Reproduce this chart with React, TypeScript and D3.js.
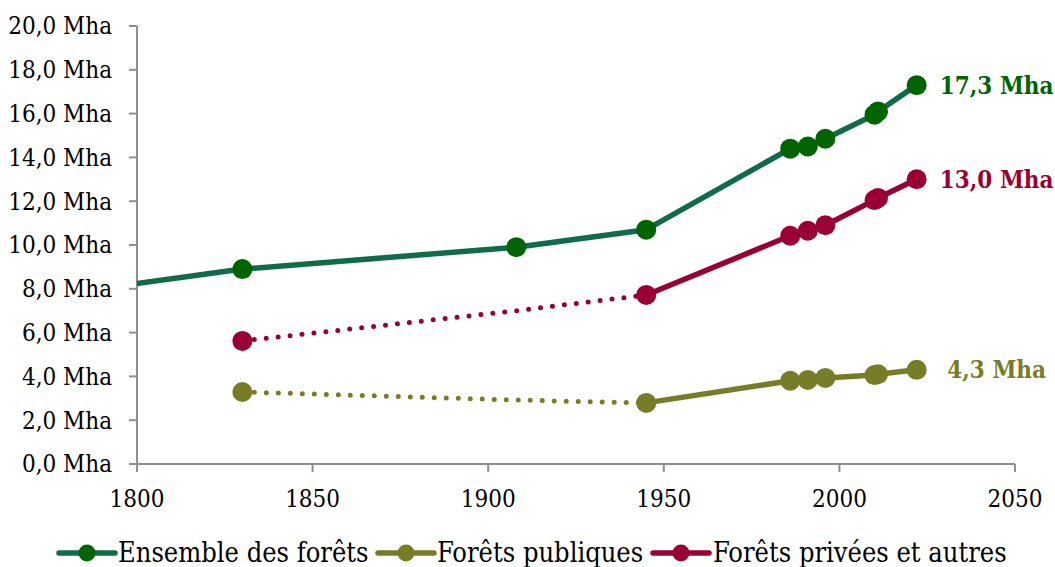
import * as d3 from 'd3';

const years = [1789, 1830, 1908, 1945, 1986, 1991, 1996, 2010, 2011, 2022];
const totalValues = [8.0, 8.9, 9.9, 10.7, 14.4, 14.5, 14.85, 15.95, 16.1, 17.3];
const publicValues = [null, 3.29, 2.92, 2.79, 3.8, 3.84, 3.93, 4.06, 4.1, 4.3];
const privateValues = [null, 5.62, 7.0, 7.72, 10.42, 10.65, 10.9, 12.05, 12.15, 13.0];
// years up to this one are estimates (dotted for public / private)
const estimateUntil = 1945;
const yTicks = [0, 2, 4, 6, 8, 10, 12, 14, 16, 18, 20];
const xTicks = [1800, 1850, 1900, 1950, 2000, 2050];
const seriesNames = ['Ensemble des forêts', 'Forêts publiques', 'Forêts privées et autres'];
const endLabels = ['17,3 Mha', '4,3 Mha', '13,0 Mha'];

const FONT = '"DejaVu Serif Condensed", "DejaVu Serif", serif';
const W = 1055;
const H = 567;
const left = 137;
const right = 1015;
const top = 26;
const bottom = 464;

type Pt = { year: number; value: number };

export default function App() {
  const x = d3.scaleLinear().domain([1800, 2050]).range([left, right]);
  const y = d3.scaleLinear().domain([0, 20]).range([bottom, top]);
  const fmt = (v: number) => v.toFixed(1).replace('.', ',') + ' Mha';

  const line = d3
    .line<Pt>()
    .x((d) => x(d.year))
    .y((d) => y(d.value));

  const series = [
    { name: seriesNames[0], values: totalValues, line: '#0F6B48', dot: '#006400', label: endLabels[0], dotted: false, hideMarker: [1908] },
    { name: seriesNames[1], values: publicValues, line: '#777D26', dot: '#777D26', label: endLabels[1], dotted: true, hideMarker: [1908] },
    { name: seriesNames[2], values: privateValues, line: '#990033', dot: '#990033', label: endLabels[2], dotted: true, hideMarker: [1908] },
  ].map((s, i) => {
    const pts: Pt[] = years
      .map((yr, j) => ({ year: yr, value: s.values[j] as number }))
      .filter((p) => p.value != null);
    return { ...s, pts, idx: i };
  });

  const legendItems = [
    { s: series[0], lx: 59, tx: 118 },
    { s: series[1], lx: 378, tx: 437 },
    { s: series[2], lx: 653, tx: 713 },
  ];

  return (
    <div style={{ position: 'fixed', left: 0, top: 0 }}>
      <svg width={W} height={H} style={{ display: 'block', background: '#fff' }} fontFamily={FONT}>
        <defs>
          <clipPath id="plot">
            <rect x={left} y={0} width={right - left + 40} height={bottom} />
          </clipPath>
        </defs>

        {/* axes */}
        <line x1={left} x2={left} y1={top} y2={bottom} stroke="#8f8f8f" strokeWidth={2} />
        <line x1={left} x2={right} y1={bottom} y2={bottom} stroke="#8f8f8f" strokeWidth={2} />
        {yTicks.map((t) => (
          <g key={'y' + t}>
            <line x1={left - 8} x2={left} y1={y(t)} y2={y(t)} stroke="#8f8f8f" strokeWidth={2} />
            <text x={112} y={y(t)} dy="0.35em" textAnchor="end" fontSize={24} fill="#000">
              {fmt(t)}
            </text>
          </g>
        ))}
        {xTicks.map((t) => (
          <g key={'x' + t}>
            <line x1={x(t)} x2={x(t)} y1={bottom} y2={bottom + 8} stroke="#8f8f8f" strokeWidth={2} />
            <text x={x(t)} y={507} textAnchor="middle" fontSize={24} fill="#000">
              {t}
            </text>
          </g>
        ))}

        {/* lines */}
        <g clipPath="url(#plot)">
          {series.map((s) => {
            const est = s.dotted ? s.pts.filter((p) => p.year <= estimateUntil) : [];
            const solid = s.dotted ? s.pts.filter((p) => p.year >= estimateUntil) : s.pts;
            return (
              <g key={s.name}>
                {est.length > 1 && (
                  <path
                    d={line(est) || ''}
                    fill="none"
                    stroke={s.line}
                    strokeWidth={5}
                    strokeLinecap="round"
                    strokeDasharray="0 12"
                  />
                )}
                <path
                  d={line(solid) || ''}
                  fill="none"
                  stroke={s.line}
                  strokeWidth={5.5}
                  strokeLinejoin="round"
                />
                {s.pts
                  .filter((p) => p.year >= 1800 && !s.hideMarker.includes(p.year) || (s.idx === 0 && p.year === 1908))
                  .map((p) => (
                    <circle key={p.year} cx={x(p.year)} cy={y(p.value)} r={10} fill={s.dot} />
                  ))}
              </g>
            );
          })}
        </g>

        {/* end labels */}
        {series.map((s) => {
          const last = s.pts[s.pts.length - 1];
          return (
            <text
              key={'l' + s.name}
              x={x(last.year) + 80}
              y={y(last.value)}
              dy="0.35em"
              textAnchor="middle"
              fontSize={24}
              fontWeight="bold"
              fill={s.dot}
            >
              {s.label}
            </text>
          );
        })}

        {/* legend */}
        {legendItems.map(({ s, lx, tx }) => (
          <g key={'lg' + s.name}>
            <line x1={lx} x2={lx + 56} y1={553} y2={553} stroke={s.line} strokeWidth={5.5} strokeLinecap="round" />
            <circle cx={lx + 28} cy={553} r={8.5} fill={s.dot} />
            <text x={tx} y={553} dy="0.35em" fontSize={27} fill="#000">
              {s.name}
            </text>
          </g>
        ))}
      </svg>
    </div>
  );
}
